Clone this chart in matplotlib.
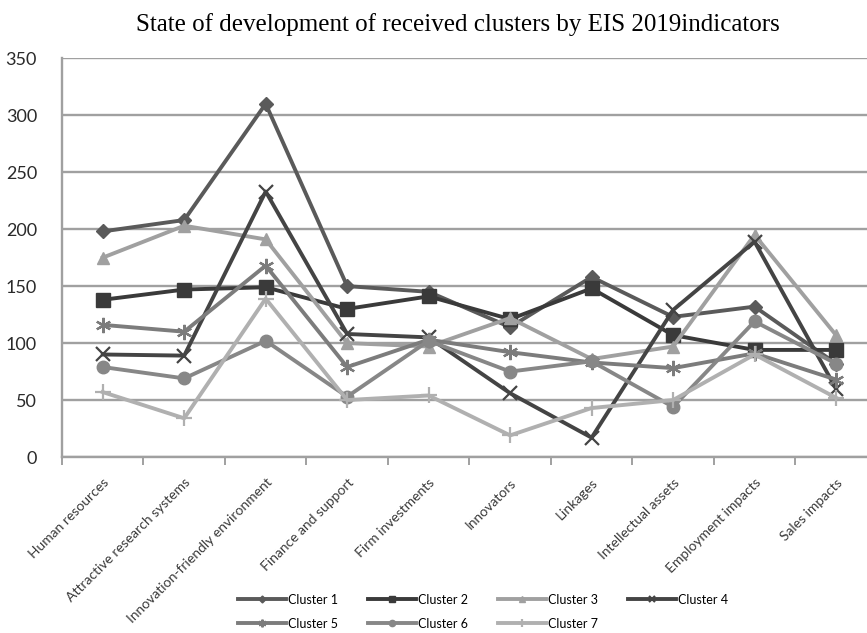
import numpy as np
import matplotlib
matplotlib.use("Agg")
import matplotlib.pyplot as plt

categories = ["Human resources", "Attractive research systems",
              "Innovation-friendly environment", "Finance and support",
              "Firm investments", "Innovators", "Linkages",
              "Intellectual assets", "Employment impacts", "Sales impacts"]

cluster1 = [198, 208, 310, 150, 145, 114, 158, 123, 132, 82]
cluster2 = [138, 147, 149, 130, 141, 121, 148, 107, 94, 94]
cluster3 = [175, 203, 191, 100, 97, 122, 86, 97, 195, 107]
cluster4 = [90, 89, 233, 108, 105, 56, 17, 129, 189, 60]
cluster5 = [116, 110, 168, 79, 103, 92, 83, 78, 91, 68]
cluster6 = [79, 69, 102, 53, 102, 75, 84, 44, 119, 82]
cluster7 = [57, 34, 139, 50, 54, 19, 43, 50, 90, 52]

series = [cluster1, cluster2, cluster3, cluster4, cluster5, cluster6, cluster7]
names = ["Cluster 1", "Cluster 2", "Cluster 3", "Cluster 4",
         "Cluster 5", "Cluster 6", "Cluster 7"]

# greyscale print of the default Excel palette
colors = ["#5a5a5a", "#3a3a3a", "#a0a0a0", "#444444", "#7c7c7c", "#878787", "#b0b0b0"]
markers = ["D", "s", "^", "x", (6, 2, 0), "o", "+"]
msizes = [7, 10, 9, 10, 11, 9, 11]

fig = plt.figure(figsize=(8.67, 6.33), dpi=100)
ax = fig.add_axes([0.0715, 0.278, 0.9285, 0.630])

x = np.arange(len(categories))
handles = []
for vals, name, c, m, ms in zip(series, names, colors, markers, msizes):
    h, = ax.plot(x, vals, color=c, lw=2.8, marker=m, markersize=ms,
                 markeredgewidth=1.6 if m in ("x", "+", (6, 2, 0)) else 1.0,
                 markeredgecolor=c, label=name, zorder=3)
    handles.append(h)

ax.set_ylim(0, 350)
ax.set_yticks(np.arange(0, 351, 50))
ax.set_xlim(-0.5, 9.38)
ax.yaxis.grid(True, color="#a0a0a0", lw=1.7)
ax.set_axisbelow(True)

for side in ("top", "right"):
    ax.spines[side].set_visible(False)
for side in ("left", "bottom"):
    ax.spines[side].set_color("#a0a0a0")
    ax.spines[side].set_linewidth(1.7)

ax.tick_params(axis="y", length=0, pad=18, labelsize=13, labelcolor="#2a2a2a")
for lab in ax.get_yticklabels():
    lab.set_family("Lato")

ax.set_xticks(x)
ax.set_xticklabels(categories, rotation=45, ha="right", rotation_mode="anchor",
                   fontsize=10, color="#3a3a3a", family="Lato")
ax.tick_params(axis="x", which="major", length=0, pad=14)
ax.set_xticks(np.arange(-0.5, 9.5, 1), minor=True)
ax.tick_params(axis="x", which="minor", length=6, width=1.4, color="#a0a0a0")

fig.text(0.528, 0.962, "State of development of received clusters by EIS 2019indicators",
         ha="center", va="center", fontsize=18, family="Liberation Serif")

# row-major legend: 4 columns, column-major fill order reshuffled
order = [0, 4, 1, 5, 2, 6, 3]
leg = fig.legend([handles[i] for i in order], [names[i] for i in order],
                 loc="upper left", ncol=4,
                 frameon=False, handlelength=3.9, handletextpad=0.1,
                 columnspacing=2.4, labelspacing=0.95, markerscale=0.5,
                 borderaxespad=0, borderpad=0,
                 prop={"family": "Lato", "size": 9})
leg.set_bbox_to_anchor((0.274, 0.062), transform=fig.transFigure)

fig.savefig("out.png", dpi=100)
